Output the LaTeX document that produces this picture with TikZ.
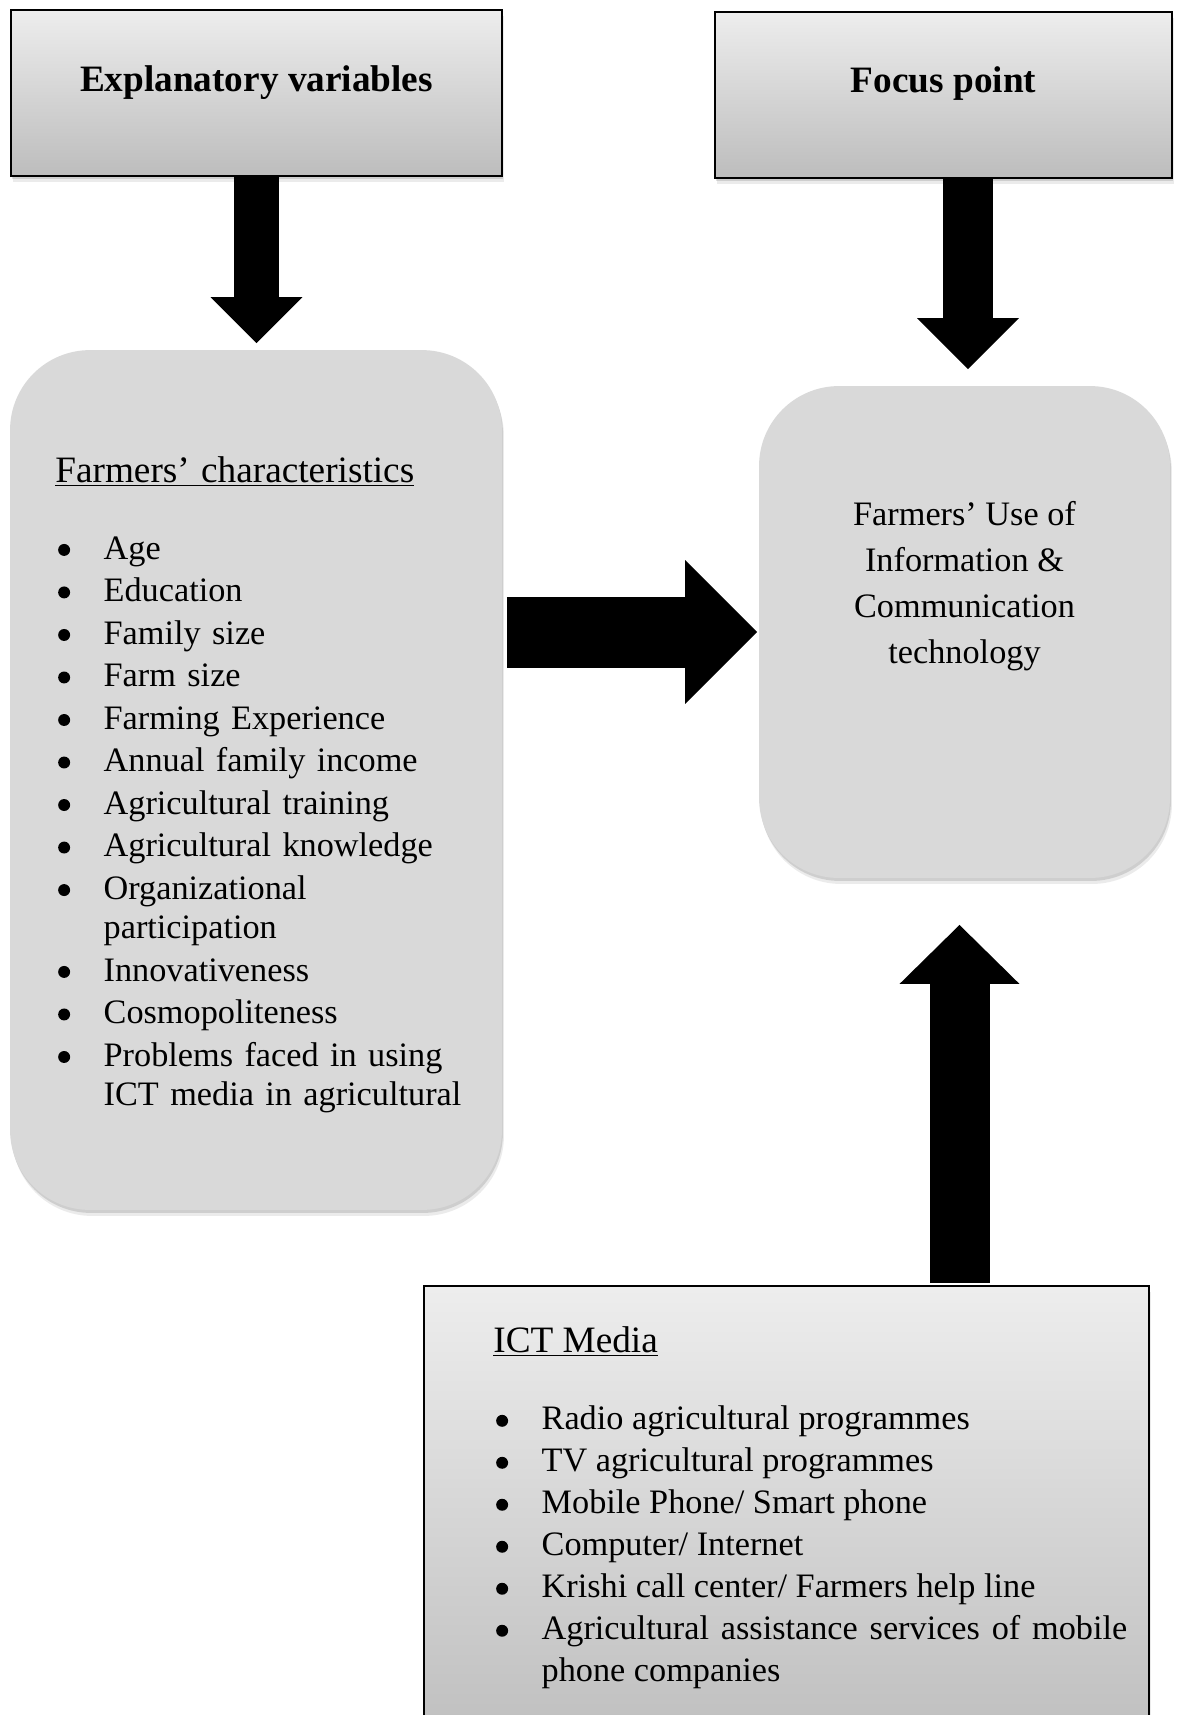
\documentclass[tikz,border=0pt]{standalone}
\usepackage{fontspec}
\setmainfont{Liberation Serif}
\usetikzlibrary{arrows.meta,positioning,shadows}

\newcommand\headfont{\fontsize{21.2pt}{24pt}\selectfont}
\newcommand\bodyfont{\fontsize{19.5pt}{22.4pt}\selectfont}
\newcommand\fatbullet{\tikz[baseline=-5.2pt]\fill (0,0) circle (3.4pt);}

\newenvironment{bulletlist}[1]{%
  \begin{list}{\fatbullet}{%
    \setlength\leftmargin{27.5pt}\setlength\labelwidth{27.5pt}%
    \setlength\labelsep{0pt}\setlength\itemindent{0pt}%
    \setlength\itemsep{#1}\setlength\parsep{0pt}%
    \setlength\topsep{0pt}\setlength\partopsep{0pt}%
    \renewcommand\makelabel[1]{\hspace{1.6pt}##1\hfil}}}%
  {\end{list}}

\tikzset{
  softshadow/.style={
    drop shadow={shadow xshift=0.02cm, shadow yshift=-0.06cm, opacity=0.12, fill=black},
    drop shadow={shadow xshift=0.04cm, shadow yshift=-0.12cm, opacity=0.08, fill=black}},
  headbox/.style={draw=black, line width=1.1pt, top color=black!7, bottom color=black!26,
    inner sep=0pt, outer sep=0pt, softshadow},
  roundbox/.style={fill=black!15, rounded corners=1.6cm, inner sep=0pt, outer sep=0pt, softshadow},
  titletext/.style={font=\headfont\bfseries, inner sep=0pt, anchor=base},
  boxtext/.style={inner sep=0pt, anchor=north west},
  fat/.style n args={3}{line width=#1, -{Triangle[width=#2, length=#3, line width=0pt]}},
}

\begin{document}
\begin{tikzpicture}[x=0.02cm, y=-0.02cm]
  \useasboundingbox (0,0) rectangle (1177,1715);
  \clip (0,0) rectangle (1177,1715);

  % boxes
  \node[headbox, minimum width=9.82cm, minimum height=3.32cm] (ev) at (256.5,93) {};
  \node[headbox, minimum width=9.14cm, minimum height=3.32cm] (fp) at (943.5,95) {};
  \node[roundbox, minimum width=9.84cm, minimum height=17.2cm] (fc) at (256,780) {};
  \node[roundbox, minimum width=8.22cm, minimum height=9.84cm] (use) at (964.5,632) {};
  \node[headbox, minimum width=14.5cm, minimum height=9.48cm] (ict) at (786.5,1523) {};

  % titles
  \node[titletext] (evtitle) at ([yshift=0.04cm]ev.center) {Explanatory variables};
  \node[titletext] (fptitle) at ([yshift=0.05cm]fp.center) {Focus point};

  % box contents
  \node[boxtext, text width=8.6cm, align=left, font=\bodyfont] (fctext) at (55,452.4) {%
    \noindent{\headfont\strut\underline{Farmers' characteristics}\par}\vspace{21.3pt}%
    \begin{bulletlist}{1.8pt}
      \item Age
      \item Education
      \item Family size
      \item Farm size
      \item Farming Experience
      \item Annual family income
      \item Agricultural training
      \item Agricultural knowledge
      \item Organizational\newline participation
      \item Innovativeness
      \item Cosmopoliteness
      \item Problems faced in using\newline ICT media in agricultural
    \end{bulletlist}};

  \node[inner sep=0pt, anchor=north, align=center, font=\fontsize{19.5pt}{26.3pt}\selectfont]
    (usetext) at (964.5,492.5) {\strut Farmers' Use of\\ Information \&\\ Communication\\ technology};

  \node[boxtext, text width=12.68cm, align=justify, font=\fontsize{19.5pt}{23.9pt}\selectfont] (icttext) at (493,1322.4) {%
    \noindent{\headfont\strut\underline{ICT Media}\par}\vspace{20.3pt}%
    \begin{bulletlist}{0pt}
      \item Radio agricultural programmes
      \item TV agricultural programmes
      \item Mobile Phone/ Smart phone
      \item Computer/ Internet
      \item Krishi call center/ Farmers help line
      \item Agricultural assistance services of mobile phone companies
    \end{bulletlist}};

  % block arrows
  \draw[fat={0.92cm}{1.84cm}{0.92cm}, shorten >=0.14cm] (ev.south) -- (ev.south |- fc.north);
  \draw[fat={1cm}{2.04cm}{1.02cm}, shorten >=0.34cm]
    ([xshift=0.07cm]use.north |- fp.south) -- ([xshift=0.07cm]use.north);
  \draw[fat={1.42cm}{2.88cm}{1.44cm}, shorten <=0.1cm, shorten >=0.04cm] (fc.east |- use.west) -- (use.west);
  \draw[fat={1.2cm}{2.4cm}{1.18cm}, shorten <=0.06cm, shorten >=0.94cm]
    ([xshift=-0.1cm]use.south |- ict.north) -- ([xshift=-0.1cm]use.south);
\end{tikzpicture}
\end{document}
